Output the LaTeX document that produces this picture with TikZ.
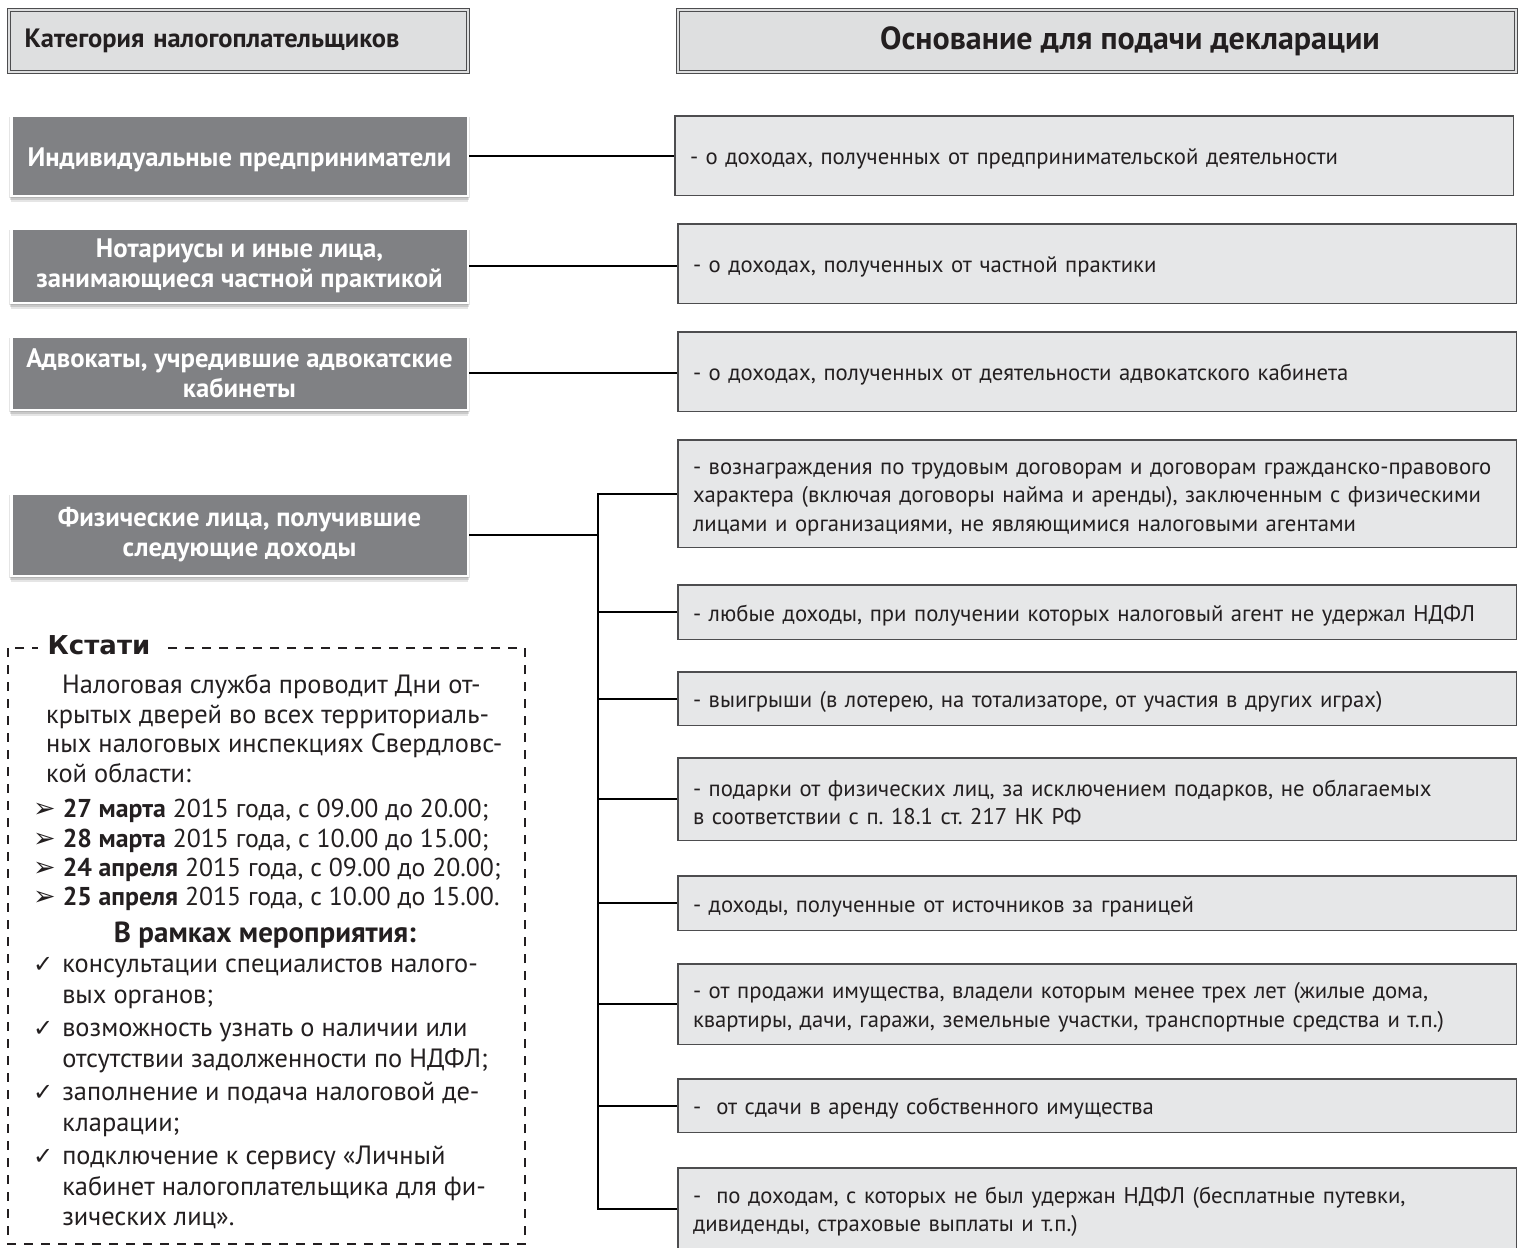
\documentclass[tikz,border=0pt]{standalone}
\usepackage{fontspec}
\setmainfont{PT Sans}
\newfontfamily\symfont{DejaVu Sans}
\newfontfamily\titlefont{DejaVu Sans}
\usetikzlibrary{shadows}
\definecolor{catfill}{RGB}{128,129,132}
\definecolor{headfill}{RGB}{222,223,224}
\definecolor{boxfill}{RGB}{230,231,232}
\definecolor{boxline}{RGB}{77,77,79}
\definecolor{inkc}{RGB}{35,31,32}
\frenchspacing
\newcommand{\arrbul}{{\symfont\bfseries\fontsize{27}{27}\selectfont ➢}}
\newcommand{\chkbul}{{\symfont\fontsize{24}{24}\selectfont ✓}}
\begin{document}
\begin{tikzpicture}[x=1pt,y=-1pt,
  header/.style={draw=boxline, double=headfill, double distance=2.5pt, line width=0.9pt,
    fill=headfill, inner sep=0pt, text=inkc, minimum height=62pt},
  catbox/.style={draw=white, line width=2.5pt, fill=catfill, text=white,
    font=\fontsize{26.7}{30}\selectfont\bfseries, align=center, minimum width=456.5pt,
    execute at begin node={\rule{0pt}{28pt}},
    general shadow={shadow yshift=-2pt, shadow scale=1.01, fill=black, opacity=0.10},
    general shadow={shadow yshift=-4pt, shadow scale=1.005, fill=black, opacity=0.12},
    general shadow={shadow yshift=-6pt, fill=black, opacity=0.10}},
  catboxtwo/.style={catbox, execute at begin node={\rule{0pt}{36pt}}},
  reason/.style={draw=boxline, line width=1.5pt, fill=boxfill, text=inkc,
    font=\fontsize{22.7}{28.5}\selectfont, align=left, minimum width=838.5pt,
    text width=808pt, inner xsep=15pt, inner ysep=0pt,
    execute at begin node={\rule{0pt}{23pt}},
    drop shadow={shadow xshift=1.2pt, shadow yshift=-1.2pt, opacity=0.3}},
  link/.style={line width=2pt, black},
  boxtext/.style={inner sep=0pt, text=inkc, font=\fontsize{26.4}{29.8}\selectfont},
  ]
\useasboundingbox (0,0) rectangle (1525,1247);
\fill[white] (0,0) rectangle (1525,1247);

% headers
\node[header, minimum width=459pt, text width=428pt, align=left,
  font=\fontsize{26.5}{30}\selectfont\bfseries] (hleft) at (238.5,41) {Категория налогоплательщиков};
\node[header, minimum width=838pt,
  label={[xshift=33pt, text=inkc, font=\fontsize{32}{36}\selectfont\bfseries]center:Основание для подачи декларации}] (hright) at (1097,41) {};

% categories
\node[catbox, minimum height=80.5pt] (L1) at (239.5,155.5) {Индивидуальные предприниматели};
\node[catboxtwo, minimum height=74.5pt] (L2) at (239.5,265.5) {Нотариусы и иные лица,\\занимающиеся частной практикой};
\node[catboxtwo, minimum height=73.5pt] (L3) at (239.5,373) {Адвокаты, учредившие адвокатские\\кабинеты};
\node[catboxtwo, minimum height=82.5pt] (L4) at (239.5,534.5) {Физические лица, получившие\\следующие доходы};

% reasons
\node[reason, minimum height=79.5pt] (R1) at (1094,155.5) {- о доходах, полученных от предпринимательской деятельности};
\node[reason, minimum height=79.5pt] (R2) at (1097,263.5) {- о доходах, полученных от частной практики};
\node[reason, minimum height=79.5pt] (R3) at (1097,371.5) {- о доходах, полученных от деятельности адвокатского кабинета};
\node[reason, minimum height=107.5pt] (R4) at (1097,493.5) {- вознаграждения по трудовым договорам и договорам гражданско-правового\\характера (включая договоры найма и аренды), заключенным с физическими\\лицами и организациями, не являющимися налоговыми агентами};
\node[reason, minimum height=54.5pt] (R5) at (1097,612) {- любые доходы, при получении которых налоговый агент не удержал НДФЛ};
\node[reason, minimum height=53.5pt] (R6) at (1097,698.5) {- выигрыши (в лотерею, на тотализаторе, от участия в других играх)};
\node[reason, minimum height=82.5pt] (R7) at (1097,799) {- подарки от физических лиц, за исключением подарков, не облагаемых\\в соответствии с п. 18.1 ст. 217 НК РФ};
\node[reason, minimum height=54.5pt] (R8) at (1097,903) {- доходы, полученные от источников за границей};
\node[reason, minimum height=80.5pt] (R9) at (1097,1004) {- от продажи имущества, владели которым менее трех лет (жилые дома,\\квартиры, дачи, гаражи, земельные участки, транспортные средства и т.п.)};
\node[reason, minimum height=53.5pt] (R10) at (1097,1105.5) {-\ \ от сдачи в аренду собственного имущества};
\node[reason, minimum height=81pt] (R11) at (1097,1208.5) {-\ \ по доходам, с которых не был удержан НДФЛ (бесплатные путевки,\\дивиденды, страховые выплаты и т.п.)};

% connectors
\coordinate (tx) at (598,0);
\draw[link] (L1.east) -- (L1.east -| R1.west);
\draw[link] (L2.east) -- (L2.east -| R2.west);
\draw[link] (L3.east) -- (L3.east -| R3.west);
\draw[link] (L4.east) -- (L4.east -| tx);
\foreach \i in {4,...,11}{
  \draw[link] (L4.east -| tx) |- (R\i.west);
}

% Kstati box
\draw[line width=2pt, dash pattern=on 9pt off 8pt, inkc] (8,648) rectangle (525,1244);
\node[fill=white, inner xsep=10pt, inner ysep=2pt, text=inkc, font=\titlefont\fontsize{26}{30}\selectfont\bfseries] (kst) at (99,645) {Кстати};
\node[boxtext, anchor=west, align=left] (para) at (46,728.5)
  {\hspace*{16pt}Налоговая служба проводит Дни от-\\крытых дверей во всех территориаль-\\ных налоговых инспекциях Свердловс-\\кой области:};
\node[boxtext, anchor=west, font=\fontsize{25.8}{29.3}\selectfont] (dates) at (33,856)
  {\begin{tabular}{@{}l@{\hspace{7pt}}l@{}}
   \arrbul & \textbf{27 марта} 2015 года, с 09.00 до 20.00;\\
   \arrbul & \textbf{28 марта} 2015 года, с 10.00 до 15.00;\\
   \arrbul & \textbf{24 апреля} 2015 года, с 09.00 до 20.00;\\
   \arrbul & \textbf{25 апреля} 2015 года, с 10.00 до 15.00.
   \end{tabular}};
\node[boxtext, font=\fontsize{29}{32}\selectfont\bfseries] (event) at (265,935) {В рамках мероприятия:};
\node[boxtext, anchor=west, font=\fontsize{26.4}{30.5}\selectfont] (checks) at (33,1093)
  {\begin{tabular}{@{}l@{\hspace{9pt}}l@{}}
   \chkbul & консультации специалистов налого-\\
   & вых органов;\\[3pt]
   \chkbul & возможность узнать о наличии или\\
   & отсутствии задолженности по НДФЛ;\\[3pt]
   \chkbul & заполнение и подача налоговой де-\\
   & кларации;\\[3pt]
   \chkbul & подключение к сервису «Личный\\
   & кабинет налогоплательщика для фи-\\
   & зических лиц».
   \end{tabular}};
\end{tikzpicture}
\end{document}
